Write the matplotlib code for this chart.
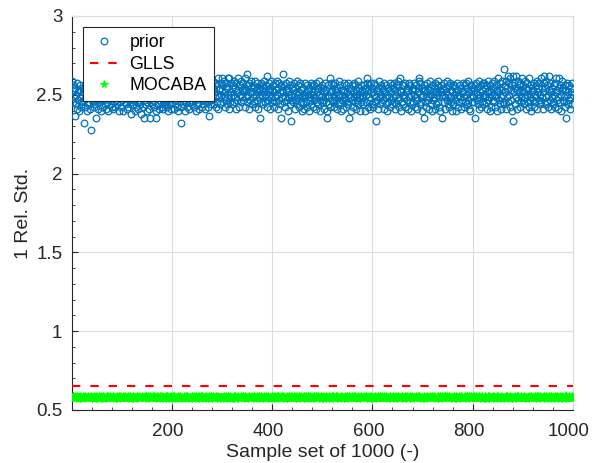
import numpy as np
import matplotlib
matplotlib.use("Agg")
import matplotlib.pyplot as plt
import matplotlib.transforms as mtransforms
from matplotlib.ticker import MultipleLocator, FixedLocator

plt.rcParams['font.family'] = ['Liberation Sans', 'DejaVu Sans']

# Prior relative std per sample: centre value plus deviations in units of 0.015
prior_center = 2.485
prior_dev_unit = 0.015
prior_dev = """
7 5 -2 3 0 -8 4 -3 1 6 -5 2 -1 -6 3 0 5 -4 -2 1
-3 4 2 -11 -1 5 -4 0 3 -6 1 -2 6 -3 0 2 -5 4 -14 -1
3 -2 0 5 -4 1 -3 6 -9 2 -1 4 -5 0 3 -2 1 -6 5 -1
-4 2 6 -1 0 -3 4 -5 2 1 -2 5 -6 3 0 -1 4 -3 2 -4
1 -5 3 0 -2 6 -4 2 -1 4 -3 0 5 -6 1 -2 3 -4 0 2
-1 3 -6 4 0 -2 5 -3 1 -5 2 0 -4 6 -1 3 -2 -7 4 1
0 -3 5 -1 2 -6 3 -4 0 1 -2 4 -5 2 -1 6 -3 0 -7 3
2 -4 1 -1 -9 5 -3 0 4 -2 -6 3 1 -1 -5 2 -9 0 4 -3
-2 5 -1 3 -4 0 2 -6 -9 4 1 -3 5 -1 -5 2 0 -2 3 -4
4 -1 -5 2 0 -3 6 -2 1 -4 3 -1 -6 5 0 2 -3 1 -5 3
-2 4 0 -5 3 1 -3 6 -1 -4 2 0 -6 3 1 -2 5 -4 -11 2
1 -3 5 -1 4 -6 0 2 -2 7 -4 1 3 -5 0 6 -2 -1 4 -3
5 -2 0 8 -4 2 -1 3 -6 1 4 -3 6 0 -5 2 7 -1 3 -4
2 6 -3 1 -1 5 -5 3 0 7 -2 4 -4 1 -8 6 -1 2 -3 5
-1 4 7 -3 2 0 5 -4 6 1 -2 8 -5 3 0 4 -3 6 1 8
3 -2 5 0 7 -4 2 6 -1 4 -3 8 1 -5 8 2 -2 6 0 4
-3 5 1 7 -2 4 0 -5 6 2 -1 8 3 -4 5 1 -2 7 0 3
6 -1 4 2 -4 8 0 3 10 -2 5 1 -5 6 2 -1 4 7 -3 2
0 5 -2 4 7 -4 1 3 -1 6 -5 2 4 0 -9 3 6 -2 5 1
4 -3 2 7 0 -2 5 1 -4 9 3 -1 6 2 -5 4 0 7 -2 3
-1 5 2 -4 6 0 3 -2 7 1 -5 4 -1 6 2 -3 5 -9 0 3
2 10 -2 5 0 -4 6 3 -1 4 -6 2 7 0 -3 5 1 -10 4 -1
3 -2 6 0 -5 4 2 -1 7 -3 1 5 -4 2 0 6 -2 3 -6 1
-3 4 1 -5 6 0 2 -2 5 -4 3 1 -6 4 0 -1 6 -3 2 5
1 -4 5 -1 3 0 -5 6 2 -2 4 -3 1 7 -1 -6 3 0 5 -2
4 -1 2 -5 6 0 -2 3 -6 -9 1 5 -3 0 8 -4 2 6 -1 3
-2 5 0 -4 3 6 -1 2 -5 4 1 -3 7 0 -2 5 -6 3 1 -1
3 -5 2 6 -1 0 -4 5 2 -2 6 -3 1 -9 4 0 -6 3 5 -1
-4 2 6 0 -2 5 -5 3 1 -1 7 -3 4 0 -6 2 5 -2 3 1
0 -3 5 2 -6 4 1 -2 6 8 -4 3 0 5 -1 -5 2 6 -3 4
2 -4 6 1 -2 5 0 -10 3 -1 4 -5 2 7 0 -3 5 1 -2 4
-1 3 -5 6 2 0 -3 5 1 -6 4 -2 3 0 6 -4 2 -1 5 -3
4 0 -2 6 -5 3 1 -3 5 2 -1 7 -4 0 8 3 -6 2 5 -2
1 -3 5 0 6 -4 2 -1 4 -5 3 6 0 -2 5 -6 1 3 -3 4
-2 6 1 -4 3 0 5 -1 -5 4 2 7 8 -3 6 0 -2 4 -6 3
1 -9 5 -2 3 0 -4 6 2 -1 4 -5 0 3 7 -3 1 -6 5 2
-1 4 0 -5 6 2 -3 5 1 -2 7 0 -4 3 -6 2 5 -9 1 4
3 -2 6 0 -5 2 4 -1 7 -3 1 5 -4 0 6 -2 3 -6 2 5
-3 1 5 -1 4 -6 2 0 6 -4 3 1 -2 5 0 -5 4 2 -1 6
2 -4 0 5 -2 6 1 -3 4 -1 7 -5 2 0 -6 3 5 -2 1 4
0 3 -2 5 -9 2 6 -1 4 -3 1 7 -5 2 0 -4 5 3 -2 6
1 -3 6 0 4 -2 5 -5 2 7 -1 3 0 -6 5 2 -4 6 1 -1
4 -2 7 1 -4 5 0 3 -6 2 8 -1 4 -3 6 0 -5 3 7 -2
1 12 -3 5 2 -5 7 0 4 9 -2 6 1 -4 8 3 -1 5 -6 -10
9 2 6 -3 4 0 9 -5 3 7 -1 5 2 -4 6 0 -2 8 3 -1
5 -3 2 7 0 -5 4 1 6 -2 3 -4 8 0 -1 5 -6 2 4 -1
3 -4 6 1 -2 5 0 7 -5 2 4 -1 6 -3 1 8 -2 4 0 -5
2 6 9 -3 4 0 7 -2 5 -4 1 9 3 -1 6 -5 2 0 4 -2
-3 5 1 -4 6 2 8 -1 3 -5 0 4 8 -2 5 1 -6 3 7 -1
4 -2 0 5 -4 3 -9 1 6 -3 2 -1 5 0 -5 4 2 -3 6 1
"""

# MOCABA relative std per sample: centre value plus deviations in units of 0.001
mocaba_center = 0.580
mocaba_dev_unit = 0.001
mocaba_dev = """
3 -5 8 -2 0 6 -7 4 -1 9 -4 2 -8 5 1 -3 7 -6 0 4
-2 6 -9 3 1 -5 8 -1 4 -7 2 10 -3 0 5 -6 3 -4 7 -1
5 -3 1 -8 6 0 -4 9 -2 3 -6 4 -1 7 -9 2 0 -5 8 -3
1 7 -4 2 -10 5 -1 3 -6 8 0 -3 6 -7 4 -2 9 -5 1 3
-6 2 8 -1 4 -8 0 5 -3 7 -5 1 -9 6 2 -2 10 -4 3 -7
4 -1 6 -5 0 9 -3 2 -7 5 1 -4 8 -2 3 -10 6 0 -6 2
-3 8 0 -6 5 2 -9 4 -1 7 -4 3 0 -7 9 -2 5 -5 1 6
2 -7 4 1 -3 10 -5 6 0 -8 3 -1 7 -4 2 -6 8 -2 4 0
-5 3 9 -2 6 -7 1 4 -4 8 -1 -9 5 2 -3 7 -6 0 3 -2
7 -4 0 5 -8 3 -2 9 1 -5 6 -3 2 -7 4 0 -10 6 -1 5
-3 6 2 -6 8 -1 4 -9 3 0 -4 7 -2 5 -7 1 9 -5 2 -1
4 -2 -8 6 1 -5 3 11 -3 0 7 -6 2 -1 5 -9 4 0 -4 8
-1 5 -7 2 9 -3 0 6 -5 3 -10 4 1 -2 8 -6 3 -1 6 -4
6 -3 1 -9 4 2 -6 8 0 -2 5 -7 3 10 -4 1 -8 6 -1 2
-4 9 -1 3 -7 5 0 -3 7 -5 2 -1 8 -9 4 0 -6 3 5 -2
1 -6 4 0 7 -8 3 -2 6 1 -4 9 -5 2 -1 6 -3 -11 4 0
5 -1 -7 8 2 -4 6 0 -9 3 -2 7 1 -6 4 -3 10 -5 2 -1
-2 7 3 -5 0 8 -8 4 -1 5 -3 2 -6 9 0 -4 3 -7 6 1
3 -4 6 -1 -9 2 5 -6 8 0 -2 4 -5 7 -3 1 -8 6 -1 4
-6 1 8 -3 4 -1 -7 9 2 -5 6 0 -4 3 -10 5 1 -2 7 -3
2 -5 0 7 -2 4 -8 3 6 -1 -6 8 -3 1 5 -7 2 0 -4 9
-1 6 -4 2 -9 5 1 -3 8 -6 3 0 -2 7 -5 4 -1 10 -7 2
4 -2 7 -6 0 3 -4 9 -1 5 -8 2 6 -3 1 -5 8 -2 3 -7
0 5 -3 8 -5 1 6 -9 4 -2 7 -1 3 -6 9 0 -4 2 -8 5
-3 2 9 -1 4 -7 0 6 -4 3 -2 8 -6 1 5 -3 7 -9 2 0
6 -4 1 -8 5 2 -2 7 -5 0 4 -1 9 -6 3 -3 1 -10 6 2
-2 8 -5 3 0 -7 6 1 -3 9 -1 4 -8 5 2 -4 7 0 -6 3
5 -1 3 -6 10 -2 4 -9 1 6 -4 0 7 -3 2 -7 5 -1 8 -5
-7 3 0 6 -3 8 -1 -5 4 2 -8 7 0 -2 5 -6 3 9 -4 1
2 -6 7 -1 4 -4 9 0 -7 3 1 -3 6 -9 4 0 -2 8 -5 3
-4 1 5 -8 2 7 -2 4 -6 0 9 -3 3 -1 6 -7 2 -5 8 -1
3 -7 -1 6 -4 1 8 -5 2 -2 5 -9 4 0 -3 7 -6 3 1 -2
7 -2 4 -5 1 -8 3 6 -1 -6 9 2 -4 5 -1 0 -7 4 -3 8
-1 4 -9 2 6 -3 0 8 -6 3 -2 5 -5 1 7 -4 2 -8 6 0
5 -3 2 -7 0 9 -5 3 1 -4 6 -1 8 -6 2 -2 4 -9 3 -1
-5 7 -1 4 -8 2 5 -3 6 0 -6 3 -2 9 -4 1 -1 6 -7 4
1 -2 8 -6 3 -1 -9 5 2 -4 7 0 -3 6 -8 4 1 -5 9 -2
-3 6 0 -4 7 -7 2 9 -2 1 -5 8 3 -1 -6 4 -3 5 0 -8
4 -5 6 1 -2 8 -4 0 5 -9 2 -3 7 -1 3 -6 9 -2 1 -4
-6 2 -1 7 -3 4 0 -8 6 3 -5 1 8 -4 2 -1 6 -7 4 0
3 -1 9 -5 1 -3 6 -7 0 4 -2 10 -6 3 -4 5 1 -9 7 -2
-2 5 -6 2 8 -4 3 -1 -8 6 0 -3 7 -5 4 1 -7 3 -1 6
6 -4 1 -9 4 0 -2 7 -5 2 9 -1 -6 3 -3 8 -1 5 -8 2
-1 3 -7 5 -2 9 0 -4 6 -6 1 4 -3 8 -9 2 5 -1 3 -5
2 -8 4 0 6 -3 -5 8 1 -2 7 -7 3 -1 5 -4 9 0 -6 3
-4 7 -2 3 -6 1 5 -1 -9 4 2 -3 6 0 -7 8 -2 4 1 -5
5 0 -6 8 -3 2 -1 6 -4 9 -8 3 0 -2 7 -5 1 4 -7 2
-3 4 6 -5 1 -9 7 2 -2 5 -1 -6 10 3 -4 0 6 -8 2 -1
1 -6 3 7 -4 0 -2 8 -7 4 2 -3 5 -9 6 -1 3 -5 8 0
-2 5 -8 1 6 -3 9 -1 4 -6 2 -4 7 0 -7 3 -1 6 -5 2
"""

glls_value = 0.655

prior = prior_center + np.array(prior_dev.split(), dtype=float) * prior_dev_unit
mocaba = mocaba_center + np.array(mocaba_dev.split(), dtype=float) * mocaba_dev_unit
x_prior = np.arange(1, len(prior) + 1)
x_mocaba = np.arange(1, len(mocaba) + 1)

x_ticks = [200, 400, 600, 800, 1000]
y_ticks = [0.5, 1, 1.5, 2, 2.5, 3]
y_tick_labels = ["0.5", "1", "1.5", "2", "2.5", "3"]

blue = "#0072BD"
grid_gray = "#DCDCDC"
ink = "#262626"

fig = plt.figure(figsize=(5.92, 4.63), dpi=100)
ax = fig.add_axes([72 / 592, 1 - 410 / 463, (573 - 72) / 592, (410 - 16) / 463])

ax.plot(x_prior, prior, linestyle="none", marker="o", markersize=4.8,
        markerfacecolor="none", markeredgecolor=blue, markeredgewidth=0.9,
        label="prior", zorder=3)
ax.plot([1, 1000], [glls_value, glls_value], color="red", linestyle=(0, (4, 4.8)),
        linewidth=1.5, label="GLLS", zorder=4)
ax.plot(x_mocaba, mocaba, linestyle="none", marker="*", markersize=5.3,
        color="#00FF00", markeredgewidth=0.8, label="MOCABA", zorder=3)

ax.set_xlim(1, 1000)
ax.set_ylim(0.5, 3)
ax.xaxis.set_major_locator(FixedLocator(x_ticks))
ax.xaxis.set_minor_locator(MultipleLocator(40))
ax.set_yticks(y_ticks)
ax.set_yticklabels(y_tick_labels)
ax.yaxis.set_minor_locator(MultipleLocator(0.1))

ax.tick_params(axis="both", which="major", direction="in", length=4.5, width=0.8,
               labelsize=13.5, colors=ink, top=False, right=False)
ax.tick_params(axis="x", which="major", pad=9)
ax.tick_params(axis="y", which="major", pad=7)
ax.tick_params(axis="both", which="minor", direction="in", length=2.5, width=0.6,
               top=False, right=False, colors=ink)

# x tick labels sit slightly left of their ticks
shift = mtransforms.ScaledTranslation(-4 / 100, 0, fig.dpi_scale_trans)
for lbl in ax.get_xticklabels():
    lbl.set_transform(lbl.get_transform() + shift)

ax.grid(True, which="major", color=grid_gray, linewidth=0.8)
ax.set_axisbelow(True)
for side in ("top", "right"):
    ax.spines[side].set_color(grid_gray)
for side in ("left", "bottom"):
    ax.spines[side].set_color(ink)
    ax.spines[side].set_linewidth(0.8)

ax.set_xlabel("Sample set of 1000 (-)", fontsize=14, color=ink, labelpad=3)
ax.set_ylabel("1 Rel. Std.", fontsize=14, color=ink, labelpad=3)

leg = ax.legend(loc="upper left", bbox_to_anchor=(0.022, 0.972), fontsize=12.8,
                frameon=True, fancybox=False, framealpha=1, edgecolor=ink,
                borderpad=0.42, labelspacing=0.24, handlelength=1.5, handletextpad=0.7,
                borderaxespad=0.0)
leg.get_frame().set_linewidth(0.8)

fig.savefig("out.png", dpi=100)
